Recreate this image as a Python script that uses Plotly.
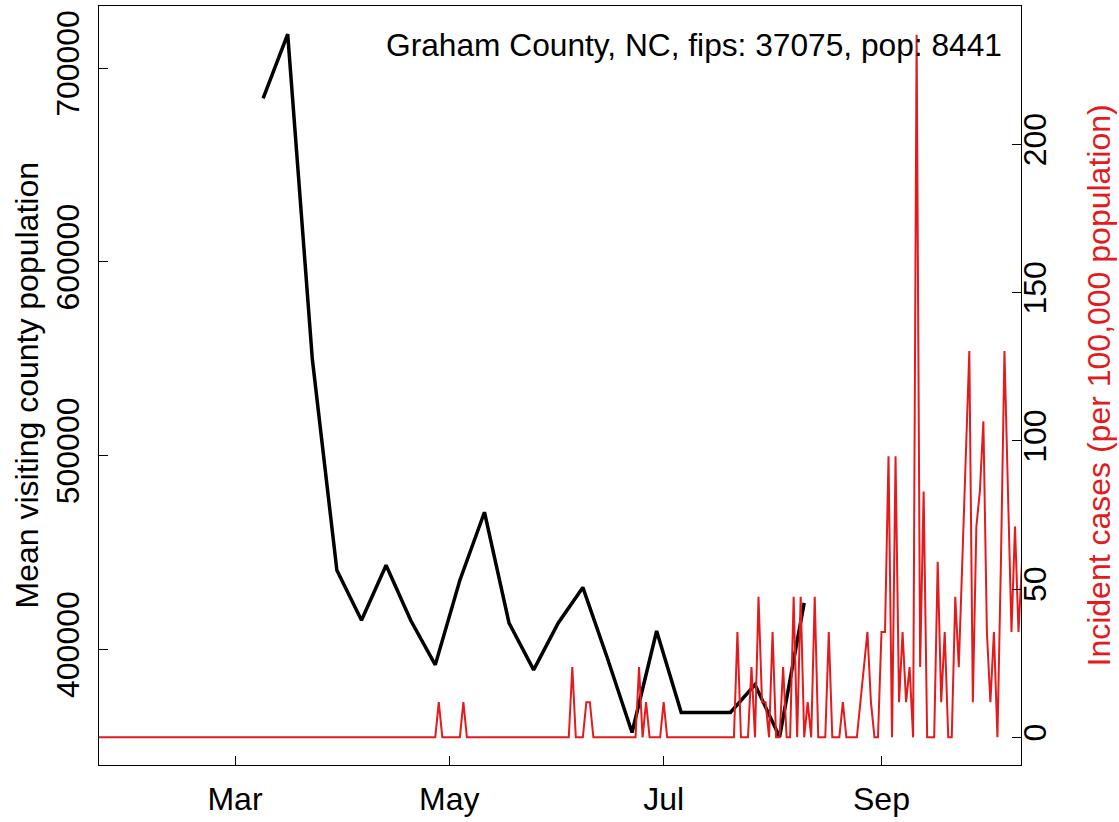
import pandas as pd
import plotly.graph_objects as go

# ---------------- data ----------------
# Weekly mean visiting county population (left axis)
visit_dates = ["2020-03-09", "2020-03-16", "2020-03-23", "2020-03-30", "2020-04-06",
               "2020-04-13", "2020-04-20", "2020-04-27", "2020-05-04", "2020-05-11",
               "2020-05-18", "2020-05-25", "2020-06-01", "2020-06-08", "2020-06-15",
               "2020-06-22", "2020-06-29", "2020-07-06", "2020-07-13", "2020-07-20",
               "2020-07-27", "2020-08-03", "2020-08-10"]
visit_values = [684500, 717600, 550000, 440800, 415000,
                443400, 415000, 392000, 435700, 470800,
                413600, 389400, 413600, 432000, 395400,
                357100, 409500, 367400, 367400, 367400,
                381800, 354800, 424000]

# Daily incident cases per 100,000 population (right axis), starting 2020-01-22
case_start = "2020-01-22"
cases_jan = [0, 0, 0, 0, 0, 0, 0, 0, 0, 0]
cases_feb = [0, 0, 0, 0, 0, 0, 0, 0, 0, 0,
             0, 0, 0, 0, 0, 0, 0, 0, 0, 0,
             0, 0, 0, 0, 0, 0, 0, 0, 0]
cases_mar = [0, 0, 0, 0, 0, 0, 0, 0, 0, 0,
             0, 0, 0, 0, 0, 0, 0, 0, 0, 0,
             0, 0, 0, 0, 0, 0, 0, 0, 0, 0, 0]
cases_apr = [0, 0, 0, 0, 0, 0, 0, 0, 0, 0,
             0, 0, 0, 0, 0, 0, 0, 0, 0, 0,
             0, 0, 0, 0, 0, 0, 0, 11.85, 0, 0]
cases_may = [0, 0, 0, 0, 11.85, 0, 0, 0, 0, 0,
             0, 0, 0, 0, 0, 0, 0, 0, 0, 0,
             0, 0, 0, 0, 0, 0, 0, 0, 0, 0, 0]
cases_jun = [0, 0, 0, 0, 23.69, 0, 0, 0, 11.85, 11.85,
             0, 0, 0, 0, 0, 0, 0, 0, 0, 0,
             0, 0, 0, 23.69, 0, 11.85, 0, 0, 0, 0]
cases_jul = [11.85, 0, 0, 0, 0, 0, 0, 0, 0, 0,
             0, 0, 0, 0, 0, 0, 0, 0, 0, 0,
             0, 35.54, 0, 0, 0, 23.69, 0, 47.39, 11.85, 11.85, 0]
cases_aug = [35.54, 0, 0, 23.69, 0, 0, 47.39, 0, 47.39, 0,
             11.85, 0, 47.39, 0, 0, 0, 35.54, 0, 0, 0,
             11.85, 0, 0, 0, 0, 11.85, 23.69, 35.54, 11.85, 0, 0]
cases_sep = [35.54, 35.54, 94.78, 0, 94.78, 11.85, 35.54, 11.85, 23.69, 0,
             236.94, 23.69, 82.93, 0, 0, 0, 59.23, 11.85, 35.54, 0,
             0, 47.39, 23.69, 59.23, 94.78, 130.32, 11.85, 71.08, 82.93, 106.62]
cases_oct = [35.54, 11.85, 35.54, 0, 59.23, 130.32, 82.93, 35.54, 71.08, 35.54, 59.23]

month_ticks = ["2020-03-01", "2020-05-01", "2020-07-01", "2020-09-01"]
month_labels = ["Mar", "May", "Jul", "Sep"]
left_ticks = [400000, 500000, 600000, 700000]
right_ticks = [0, 50, 100, 150, 200]

title_text = "Graham County, NC, fips: 37075, pop: 8441"
left_title = "Mean visiting county population"
right_title = "Incident cases (per 100,000 population)"

# ---------------- figure ----------------
incident = (cases_jan + cases_feb + cases_mar + cases_apr + cases_may +
            cases_jun + cases_jul + cases_aug + cases_sep + cases_oct)
incident_dates = pd.date_range(case_start, periods=len(incident), freq="D")

FONT = "Liberation Sans, Arial, Helvetica, sans-serif"
RED = "#E41A1C"
FS = 32
L, R, T, B = 99, 98, 5, 49
PW, PH = 1119 - L - R, 822 - T - B

fig = go.Figure()
fig.add_trace(go.Scatter(x=pd.to_datetime(visit_dates), y=visit_values, mode="lines",
                         line=dict(color="black", width=3.5), yaxis="y",
                         showlegend=False, hoverinfo="skip"))
fig.add_trace(go.Scatter(x=incident_dates, y=incident, mode="lines",
                         line=dict(color=RED, width=2), yaxis="y2",
                         showlegend=False, hoverinfo="skip"))

axis_common = dict(showgrid=False, zeroline=False, showline=True, linecolor="black",
                   linewidth=1, ticks="inside", ticklen=9, tickwidth=1, tickcolor="black",
                   tickfont=dict(family=FONT, size=FS, color="black"))

fig.update_layout(
    width=1119, height=822,
    margin=dict(l=L, r=R, t=T, b=B),
    paper_bgcolor="white", plot_bgcolor="white",
    showlegend=False,
    font=dict(family=FONT, size=FS, color="black"),
    xaxis=dict(type="date", range=["2020-01-22 07:00", "2020-10-10 17:00"],
               tickmode="array", tickvals=month_ticks, ticktext=month_labels,
               mirror=True, ticklabelstandoff=6, **axis_common),
    yaxis=dict(range=[340306, 732143], tickmode="array", tickvals=left_ticks,
               ticktext=[str(v) for v in left_ticks], tickangle=-90, mirror=True,
               ticklabelstandoff=6, **axis_common),
    yaxis2=dict(overlaying="y", side="right", range=[-9.33, 246.67], tickmode="array",
                tickvals=right_ticks, ticktext=[str(v) for v in right_ticks],
                tickangle=-90, ticklabelstandoff=-14, **axis_common),
    annotations=[
        dict(text=title_text, xref="paper", yref="paper",
             x=(1004 - L) / PW, y=1 - (44 - T) / PH,
             xanchor="right", yanchor="middle", showarrow=False,
             font=dict(family=FONT, size=31.7, color="black")),
        dict(text=left_title, xref="paper", yref="paper",
             x=(26 - L) / PW, y=0.5, textangle=-90,
             xanchor="center", yanchor="middle", showarrow=False,
             font=dict(family=FONT, size=FS, color="black")),
        dict(text=right_title, xref="paper", yref="paper",
             x=(1098 - L) / PW, y=0.5, textangle=-90,
             xanchor="center", yanchor="middle", showarrow=False,
             font=dict(family=FONT, size=FS, color=RED)),
    ],
)

fig.write_html("out.html", config={"displayModeBar": False},
               post_script="document.body.style.margin='0';")
